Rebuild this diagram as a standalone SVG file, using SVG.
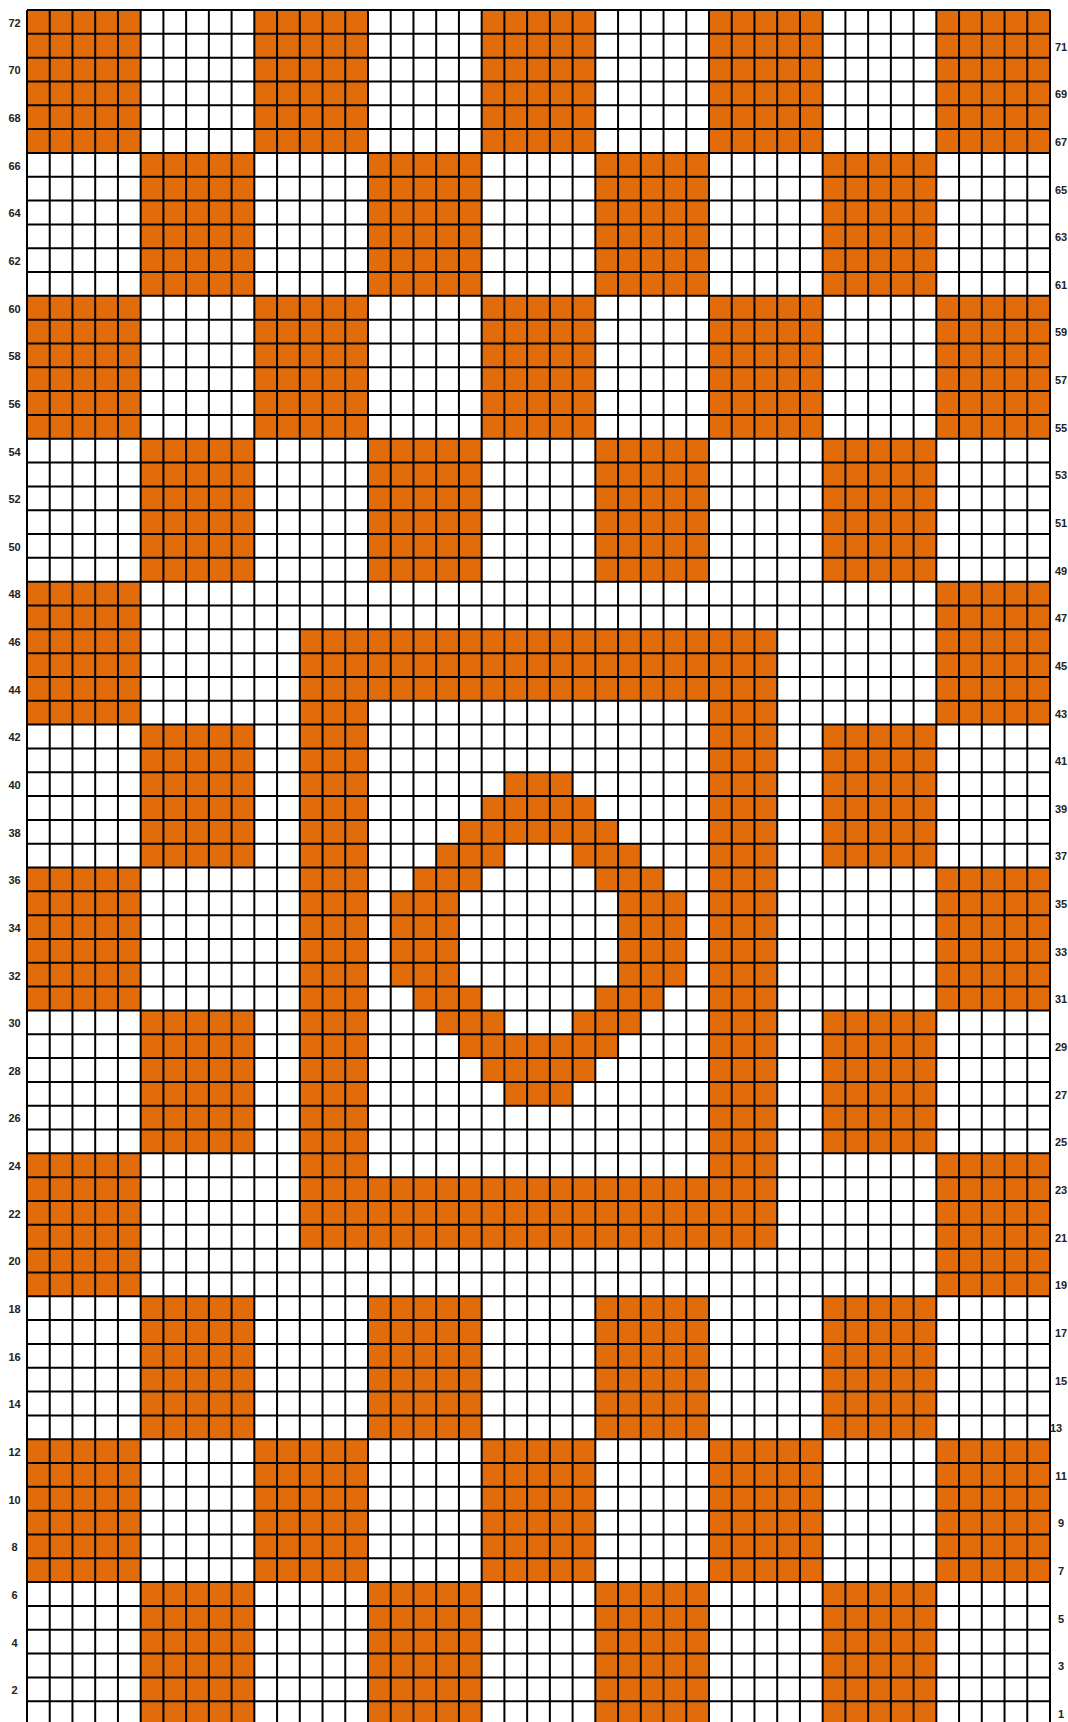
<svg xmlns="http://www.w3.org/2000/svg" width="1068" height="1722" viewBox="0 0 1068 1722">
<style>
.o{fill:#E36C0A}
.g{fill:none;stroke:#000;stroke-width:2}
.l{font-family:"Liberation Sans",Arial,sans-serif;font-size:11px;font-weight:bold;fill:#222;text-anchor:middle}
</style>
<rect x="0" y="0" width="1068" height="1722" fill="#fff"/>
<g id="chart" transform="translate(27,10) scale(22.7333,23.82)">
<g id="checker" class="o">
<rect x="0" y="0" width="5" height="6"/><rect x="10" y="0" width="5" height="6"/><rect x="20" y="0" width="5" height="6"/><rect x="30" y="0" width="5" height="6"/><rect x="40" y="0" width="5" height="6"/>
<rect x="5" y="6" width="5" height="6"/><rect x="15" y="6" width="5" height="6"/><rect x="25" y="6" width="5" height="6"/><rect x="35" y="6" width="5" height="6"/>
<rect x="0" y="12" width="5" height="6"/><rect x="10" y="12" width="5" height="6"/><rect x="20" y="12" width="5" height="6"/><rect x="30" y="12" width="5" height="6"/><rect x="40" y="12" width="5" height="6"/>
<rect x="5" y="18" width="5" height="6"/><rect x="15" y="18" width="5" height="6"/><rect x="25" y="18" width="5" height="6"/><rect x="35" y="18" width="5" height="6"/>
<rect x="0" y="24" width="5" height="6"/><rect x="40" y="24" width="5" height="6"/>
<rect x="5" y="30" width="5" height="6"/><rect x="35" y="30" width="5" height="6"/>
<rect x="0" y="36" width="5" height="6"/><rect x="40" y="36" width="5" height="6"/>
<rect x="5" y="42" width="5" height="6"/><rect x="35" y="42" width="5" height="6"/>
<rect x="0" y="48" width="5" height="6"/><rect x="40" y="48" width="5" height="6"/>
<rect x="5" y="54" width="5" height="6"/><rect x="15" y="54" width="5" height="6"/><rect x="25" y="54" width="5" height="6"/><rect x="35" y="54" width="5" height="6"/>
<rect x="0" y="60" width="5" height="6"/><rect x="10" y="60" width="5" height="6"/><rect x="20" y="60" width="5" height="6"/><rect x="30" y="60" width="5" height="6"/><rect x="40" y="60" width="5" height="6"/>
<rect x="5" y="66" width="5" height="6"/><rect x="15" y="66" width="5" height="6"/><rect x="25" y="66" width="5" height="6"/><rect x="35" y="66" width="5" height="6"/>
</g>
<g id="frame" class="o">
<rect x="12" y="26" width="21" height="3"/><rect x="12" y="49" width="21" height="3"/>
<rect x="12" y="26" width="3" height="26"/><rect x="30" y="26" width="3" height="26"/>
</g>
<g id="ring" class="o">
<rect x="21" y="32" width="3" height="1"/>
<rect x="20" y="33" width="5" height="1"/>
<rect x="19" y="34" width="7" height="1"/>
<rect x="18" y="35" width="3" height="1"/><rect x="24" y="35" width="3" height="1"/>
<rect x="17" y="36" width="3" height="1"/><rect x="25" y="36" width="3" height="1"/>
<rect x="16" y="37" width="3" height="4"/><rect x="26" y="37" width="3" height="4"/>
<rect x="17" y="41" width="3" height="1"/><rect x="25" y="41" width="3" height="1"/>
<rect x="18" y="42" width="3" height="1"/><rect x="24" y="42" width="3" height="1"/>
<rect x="19" y="43" width="7" height="1"/>
<rect x="20" y="44" width="5" height="1"/>
<rect x="21" y="45" width="3" height="1"/>
</g>
<path id="grid" class="g" vector-effect="non-scaling-stroke" d="M0 0V72M1 0V72M2 0V72M3 0V72M4 0V72M5 0V72M6 0V72M7 0V72M8 0V72M9 0V72M10 0V72M11 0V72M12 0V72M13 0V72M14 0V72M15 0V72M16 0V72M17 0V72M18 0V72M19 0V72M20 0V72M21 0V72M22 0V72M23 0V72M24 0V72M25 0V72M26 0V72M27 0V72M28 0V72M29 0V72M30 0V72M31 0V72M32 0V72M33 0V72M34 0V72M35 0V72M36 0V72M37 0V72M38 0V72M39 0V72M40 0V72M41 0V72M42 0V72M43 0V72M44 0V72M45 0V72M0 0H45M0 1H45M0 2H45M0 3H45M0 4H45M0 5H45M0 6H45M0 7H45M0 8H45M0 9H45M0 10H45M0 11H45M0 12H45M0 13H45M0 14H45M0 15H45M0 16H45M0 17H45M0 18H45M0 19H45M0 20H45M0 21H45M0 22H45M0 23H45M0 24H45M0 25H45M0 26H45M0 27H45M0 28H45M0 29H45M0 30H45M0 31H45M0 32H45M0 33H45M0 34H45M0 35H45M0 36H45M0 37H45M0 38H45M0 39H45M0 40H45M0 41H45M0 42H45M0 43H45M0 44H45M0 45H45M0 46H45M0 47H45M0 48H45M0 49H45M0 50H45M0 51H45M0 52H45M0 53H45M0 54H45M0 55H45M0 56H45M0 57H45M0 58H45M0 59H45M0 60H45M0 61H45M0 62H45M0 63H45M0 64H45M0 65H45M0 66H45M0 67H45M0 68H45M0 69H45M0 70H45M0 71H45M0 72H45"/>
</g>
<g id="labels-left" class="l">
<text x="14.5" y="26.7">72</text><text x="14.5" y="74.4">70</text><text x="14.5" y="122">68</text><text x="14.5" y="169.6">66</text><text x="14.5" y="217.3">64</text><text x="14.5" y="264.9">62</text><text x="14.5" y="312.6">60</text><text x="14.5" y="360.2">58</text><text x="14.5" y="407.8">56</text><text x="14.5" y="455.5">54</text><text x="14.5" y="503.1">52</text><text x="14.5" y="550.8">50</text><text x="14.5" y="598.4">48</text><text x="14.5" y="646">46</text><text x="14.5" y="693.7">44</text><text x="14.5" y="741.3">42</text><text x="14.5" y="789">40</text><text x="14.5" y="836.6">38</text><text x="14.5" y="884.2">36</text><text x="14.5" y="931.9">34</text><text x="14.5" y="979.5">32</text><text x="14.5" y="1027.2">30</text><text x="14.5" y="1074.8">28</text><text x="14.5" y="1122.4">26</text><text x="14.5" y="1170.1">24</text><text x="14.5" y="1217.7">22</text><text x="14.5" y="1265.4">20</text><text x="14.5" y="1313">18</text><text x="14.5" y="1360.6">16</text><text x="14.5" y="1408.3">14</text><text x="14.5" y="1455.9">12</text><text x="14.5" y="1503.6">10</text><text x="14.5" y="1551.2">8</text><text x="14.5" y="1598.8">6</text><text x="14.5" y="1646.5">4</text><text x="14.5" y="1694.1">2</text>
</g>
<g id="labels-right" class="l">
<text x="1061" y="50.5">71</text><text x="1061" y="98.2">69</text><text x="1061" y="145.8">67</text><text x="1061" y="193.5">65</text><text x="1061" y="241.1">63</text><text x="1061" y="288.7">61</text><text x="1061" y="336.4">59</text><text x="1061" y="384">57</text><text x="1061" y="431.7">55</text><text x="1061" y="479.3">53</text><text x="1061" y="526.9">51</text><text x="1061" y="574.6">49</text><text x="1061" y="622.2">47</text><text x="1061" y="669.9">45</text><text x="1061" y="717.5">43</text><text x="1061" y="765.1">41</text><text x="1061" y="812.8">39</text><text x="1061" y="860.4">37</text><text x="1061" y="908.1">35</text><text x="1061" y="955.7">33</text><text x="1061" y="1003.3">31</text><text x="1061" y="1051">29</text><text x="1061" y="1098.6">27</text><text x="1061" y="1146.3">25</text><text x="1061" y="1193.9">23</text><text x="1061" y="1241.5">21</text><text x="1061" y="1289.2">19</text><text x="1061" y="1336.8">17</text><text x="1061" y="1384.5">15</text><text x="1056" y="1432.1">13</text><text x="1061" y="1479.7">11</text><text x="1061" y="1527.4">9</text><text x="1061" y="1575">7</text><text x="1061" y="1622.7">5</text><text x="1061" y="1670.3">3</text><text x="1061" y="1717.5">1</text>
</g>
</svg>
